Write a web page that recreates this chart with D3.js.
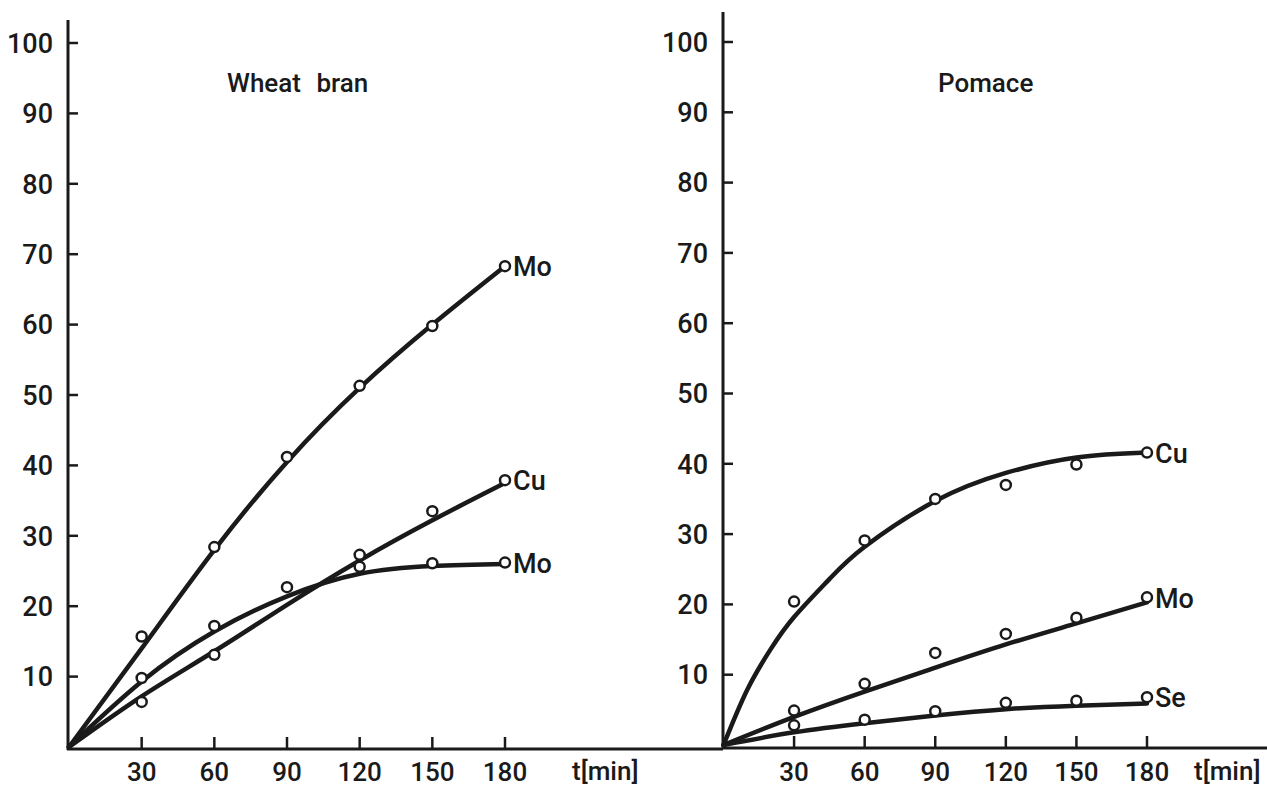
<!DOCTYPE html>
<html>
<head>
  <meta charset="utf-8">
  <title>Wheat bran / Pomace</title>
  <style>
    body { margin: 0; background: #fff; }
    svg { display: block; }
    text { font-family: Roboto, "DejaVu Sans", sans-serif; font-weight: 500; fill: #1a1a1a; }
  </style>
</head>
<body>
  <div class="chart-container"></div>
  <script src="https://cdn.jsdelivr.net/npm/d3@7"></script>
  <script>
    // sampling times (min)
    var times = [0, 30, 60, 90, 120, 150, 180];
    // the steep pomace Cu curve is read at a few extra early times
    var timesEarly = [0, 10, 20, 30, 45, 60, 90, 120, 150, 180];
    var xTicks = [30, 60, 90, 120, 150, 180];
    var yTicks = [10, 20, 30, 40, 50, 60, 70, 80, 90, 100];

    // wheat bran: measured points (null = no point drawn) and fitted curves
    var branMoHighPts = [null, 15.7, 28.4, 41.2, 51.3, 59.8, 68.3];
    var branMoHighFit = [0, 14, 28, 40.5, 51, 60, 68.3];
    var branCuPts = [null, 6.4, 13.1, null, 27.3, 33.5, 37.9];
    var branCuFit = [0, 7.2, 13.6, 20.2, 26.5, 32.2, 37.5];
    var branMoLowPts = [null, 9.8, 17.2, 22.7, 25.6, 26.1, 26.2];
    var branMoLowFit = [0, 9.3, 16.4, 21.4, 24.6, 25.7, 26];

    // pomace
    var pomCuPts = [null, 20.4, 29.1, 35.0, 37.0, 39.9, 41.6];
    var pomCuFit = [0, 7.8, 13.6, 18.2, 23.6, 28.2, 34.7, 38.7, 40.9, 41.6];
    var pomMoPts = [null, 4.9, 8.7, 13.1, 15.8, 18.1, 21.0];
    var pomMoFit = [0, 4, 7.6, 11, 14.3, 17.3, 20.3];
    var pomSePts = [null, 2.8, 3.6, 4.8, 6.0, 6.3, 6.8];
    var pomSeFit = [0, 1.8, 3.1, 4.2, 5.1, 5.6, 5.9];

    var width = 1267, height = 788;
    var ink = '#1a1a1a';

    var svg = d3.select('.chart-container').append('svg')
      .attr('width', width)
      .attr('height', height);

    var panels = [
      {
        title: 'Wheat bran', titleX: 227, axisX: 68, axisTop: 20, xEnd: 723,
        xRange: [69, 505], yRange: [747, 43], xAxisY: 749, unitX: 572,
        series: [
          { name: 'Mo', pts: branMoHighPts, fit: branMoHighFit, fitT: times },
          { name: 'Cu', pts: branCuPts, fit: branCuFit, fitT: times },
          { name: 'Mo', pts: branMoLowPts, fit: branMoLowFit, fitT: times }
        ]
      },
      {
        title: 'Pomace', titleX: 938, axisX: 723, axisTop: 12, xEnd: 1267,
        xRange: [723.5, 1147], yRange: [745, 42], xAxisY: 748, unitX: 1194,
        series: [
          { name: 'Cu', pts: pomCuPts, fit: pomCuFit, fitT: timesEarly },
          { name: 'Mo', pts: pomMoPts, fit: pomMoFit, fitT: times },
          { name: 'Se', pts: pomSePts, fit: pomSeFit, fitT: times }
        ]
      }
    ];

    panels.forEach(function (p) {
      var x = d3.scaleLinear().domain([0, 180]).range(p.xRange);
      var y = d3.scaleLinear().domain([0, 100]).range(p.yRange);
      var g = svg.append('g');

      // y axis line + inward ticks
      g.append('line')
        .attr('x1', p.axisX).attr('x2', p.axisX)
        .attr('y1', p.axisTop).attr('y2', p.xAxisY + 1)
        .style('stroke', ink).style('stroke-width', 3);

      g.selectAll('.ytick').data(yTicks).enter().append('line')
        .attr('x1', p.axisX).attr('x2', p.axisX + 10)
        .attr('y1', function (d) { return y(d); })
        .attr('y2', function (d) { return y(d); })
        .style('stroke', ink).style('stroke-width', 2.5);

      g.selectAll('.ylab').data(yTicks).enter().append('text')
        .attr('x', p.axisX - 15)
        .attr('y', function (d) { return y(d); })
        .attr('dy', '0.36em')
        .attr('text-anchor', 'end')
        .style('font-size', '27px')
        .text(function (d) { return d; });

      // x axis line + upward ticks
      g.append('line')
        .attr('x1', p.axisX - 1).attr('x2', p.xEnd)
        .attr('y1', p.xAxisY).attr('y2', p.xAxisY)
        .style('stroke', ink).style('stroke-width', 3);

      g.selectAll('.xtick').data(xTicks).enter().append('line')
        .attr('x1', function (d) { return x(d); })
        .attr('x2', function (d) { return x(d); })
        .attr('y1', p.xAxisY).attr('y2', p.xAxisY - 12)
        .style('stroke', ink).style('stroke-width', 2.5);

      g.selectAll('.xlab').data(xTicks).enter().append('text')
        .attr('x', function (d) { return x(d); })
        .attr('y', 781)
        .attr('text-anchor', 'middle')
        .style('font-size', '26px')
        .text(function (d) { return d; });

      g.append('text')
        .attr('x', p.unitX).attr('y', 780)
        .style('font-size', '26px')
        .text('t[min]');

      g.append('text')
        .attr('x', p.titleX).attr('y', 92)
        .style('font-size', '26px')
        .style('word-spacing', '9px')
        .text(p.title);

      p.series.forEach(function (s) {
        var line = d3.line()
          .curve(d3.curveNatural)
          .x(function (d, i) { return x(s.fitT[i]); })
          .y(function (d) { return y(d); });

        g.append('path')
          .attr('d', line(s.fit))
          .style('fill', 'none')
          .style('stroke', ink)
          .style('stroke-width', 4.5)
          .style('stroke-linecap', 'round');

        var pts = s.pts.map(function (v, i) { return { t: times[i], v: v }; })
          .filter(function (d) { return d.v != null; });

        g.selectAll(null).data(pts).enter().append('circle')
          .attr('cx', function (d) { return x(d.t); })
          .attr('cy', function (d) { return y(d.v); })
          .attr('r', 5)
          .style('fill', '#fff')
          .style('stroke', ink)
          .style('stroke-width', 2.5);

        var last = pts[pts.length - 1];
        g.append('text')
          .attr('x', x(last.t) + 8)
          .attr('y', y(last.v))
          .attr('dy', '0.38em')
          .style('font-size', '27px')
          .text(s.name);
      });
    });
  </script>
</body>
</html>
